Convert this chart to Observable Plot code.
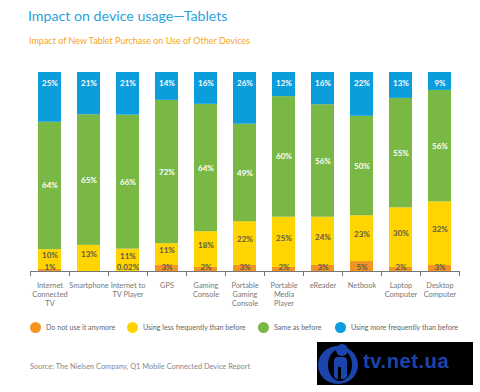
<!DOCTYPE html>
<html>
<head>
<meta charset="utf-8">
<script src="https://cdn.jsdelivr.net/npm/d3@7"></script>
<script src="https://cdn.jsdelivr.net/npm/@observablehq/plot@0.6"></script>
<style>
  html, body { margin: 0; padding: 0; background: #fff; }
  #wrap { position: relative; width: 480px; height: 392px; overflow: hidden; font-family: Lato, "Open Sans", sans-serif; }
  .title { position: absolute; left: 28px; top: 7px; font-size: 14.2px; color: #2aa3dc; white-space: nowrap; }
  .subtitle { position: absolute; left: 29px; top: 35px; font-size: 9px; color: #f6a623; white-space: nowrap; }
  #chart { position: absolute; left: 0; top: 60px; }
  .legend { position: absolute; top: 322px; left: 0; width: 480px; height: 14px; font-size: 7.1px; color: #666; }
  .legend span.item { position: absolute; top: 0; white-space: nowrap; line-height: 12px; }
  .legend i { display: inline-block; width: 11px; height: 11px; border-radius: 50%; vertical-align: middle; margin-right: 5px; position: relative; top: -1px; }
  .source { position: absolute; left: 30px; top: 362px; font-size: 7.4px; color: #888; white-space: nowrap; }
  .logo { position: absolute; left: 317px; top: 342px; width: 156px; height: 43px; background: #000; }
  .logo .txt { position: absolute; left: 46px; top: 8px; font-family: "Liberation Sans", Arial, sans-serif; font-weight: bold; font-size: 20px; color: #1c44ad; letter-spacing: 0.6px; }
</style>
</head>
<body>
<div id="wrap">
  <div class="title">Impact on device usage—Tablets</div>
  <div class="subtitle">Impact of New Tablet Purchase on Use of Other Devices</div>
  <div id="chart"></div>
  <div class="legend" id="legend"></div>
  <div class="source">Source: The Nielsen Company, Q1 Mobile Connected Device Report</div>
  <div class="logo">
    <svg width="44" height="43" style="position:absolute;left:0;top:0">
      <ellipse cx="21" cy="23" rx="20" ry="19" fill="#1c44ad"/>
      <ellipse cx="23" cy="23" rx="12" ry="16" fill="#000"/>
      <circle cx="25" cy="8" r="6" fill="#1c44ad"/>
      <rect x="17" y="15" width="13" height="22" rx="4" fill="#1c44ad"/>
      <rect x="21" y="25" width="3" height="14" fill="#000"/>
    </svg>
    <div class="txt">tv.net.ua</div>
  </div>
</div>
<script>
const categories = ["Internet Connected TV", "Smartphone", "Internet to TV Player", "GPS", "Gaming Console", "Portable Gaming Console", "Portable Media Player", "eReader", "Netbook", "Laptop Computer", "Desktop Computer"];
const tickLabels = ["Internet\nConnected\nTV", "Smartphone", "Internet to\nTV Player", "GPS", "Gaming\nConsole", "Portable\nGaming\nConsole", "Portable\nMedia\nPlayer", "eReader", "Netbook", "Laptop\nComputer", "Desktop\nComputer"];
const seriesNames = ["Do not use it anymore", "Using less frequently than before", "Same as before", "Using more frequently than before"];
const doNotUse  = [1, 0, 0.02, 3, 2, 3, 2, 3, 5, 2, 3];
const lessOften = [10, 13, 11, 11, 18, 22, 25, 24, 23, 30, 32];
const sameAs    = [64, 65, 66, 72, 64, 49, 60, 56, 50, 55, 56];
const moreOften = [25, 21, 21, 14, 16, 26, 12, 16, 22, 13, 9];
const colors = ["#f39322", "#ffd400", "#7ab845", "#0b9ddc"];

const seriesValues = [doNotUse, lessOften, sameAs, moreOften];
const rows = [];
categories.forEach((c, i) => {
  seriesValues.forEach((arr, k) => {
    if (arr[i] > 0) rows.push({category: c, series: seriesNames[k], k, value: arr[i]});
  });
});
const fmt = v => v + "%";

const step = 39;
const stackOpts = {x: "category", y: "value", z: "series", offset: "normalize"};
const chart = Plot.plot({
  width: 480,
  height: 255,
  marginLeft: 30,
  marginRight: 21,
  marginTop: 12,
  marginBottom: 44,
  style: {background: "transparent", fontFamily: "Lato, 'Open Sans', sans-serif", overflow: "visible"},
  x: {domain: categories, paddingInner: 0.41, paddingOuter: 0.205, axis: null},
  y: {domain: [0, 1], axis: null},
  color: {domain: seriesNames, range: colors},
  marks: [
    Plot.barY(rows, Plot.stackY({...stackOpts, fill: "series"})),
    // green labels at segment middle
    Plot.text(rows, Plot.stackY({
      ...stackOpts,
      text: d => d.k === 2 ? fmt(d.value) : "",
      fill: "white", fontSize: 8, fontWeight: "bold"
    })),
    // yellow labels slightly above segment middle
    Plot.text(rows, Plot.stackY({
      ...stackOpts,
      text: d => d.k === 1 ? fmt(d.value) : "",
      dy: -4, fill: "#5a5a4a", fontSize: 8, fontWeight: "bold"
    })),
    // orange labels near bottom
    Plot.text(rows.filter(d => d.k === 0), {x: "category", y: () => 0, dy: -4, text: d => fmt(d.value), fill: "#5a5a4a", fontSize: 8, fontWeight: "bold"}),
    // blue labels near top
    Plot.text(rows.filter(d => d.k === 3), {x: "category", y: () => 1, dy: 11, text: d => fmt(d.value), fill: "white", fontSize: 8, fontWeight: "bold"}),
    Plot.ruleY([0], {stroke: "#777", strokeWidth: 1}),
    Plot.ruleX(categories, {x: d => d, dx: -step / 2, y1: () => 0, y2: () => -0.025, stroke: "#777"}),
    Plot.ruleX(categories.slice(-1), {x: d => d, dx: step / 2, y1: () => 0, y2: () => -0.025, stroke: "#777"}),
    Plot.axisX({tickSize: 0, tickPadding: 10, tickFormat: d => tickLabels[categories.indexOf(d)], fontSize: 7.4, lineHeight: 1.22, fill: "#777", label: null})
  ]
});
document.getElementById("chart").appendChild(chart);

const legendX = [30, 127, 258, 335];
const legend = document.getElementById("legend");
seriesNames.forEach((s, i) => {
  const span = document.createElement("span");
  span.className = "item";
  span.style.left = legendX[i] + "px";
  span.innerHTML = `<i style="background:${colors[i]}"></i>${s}`;
  legend.appendChild(span);
});
</script>
</body>
</html>
